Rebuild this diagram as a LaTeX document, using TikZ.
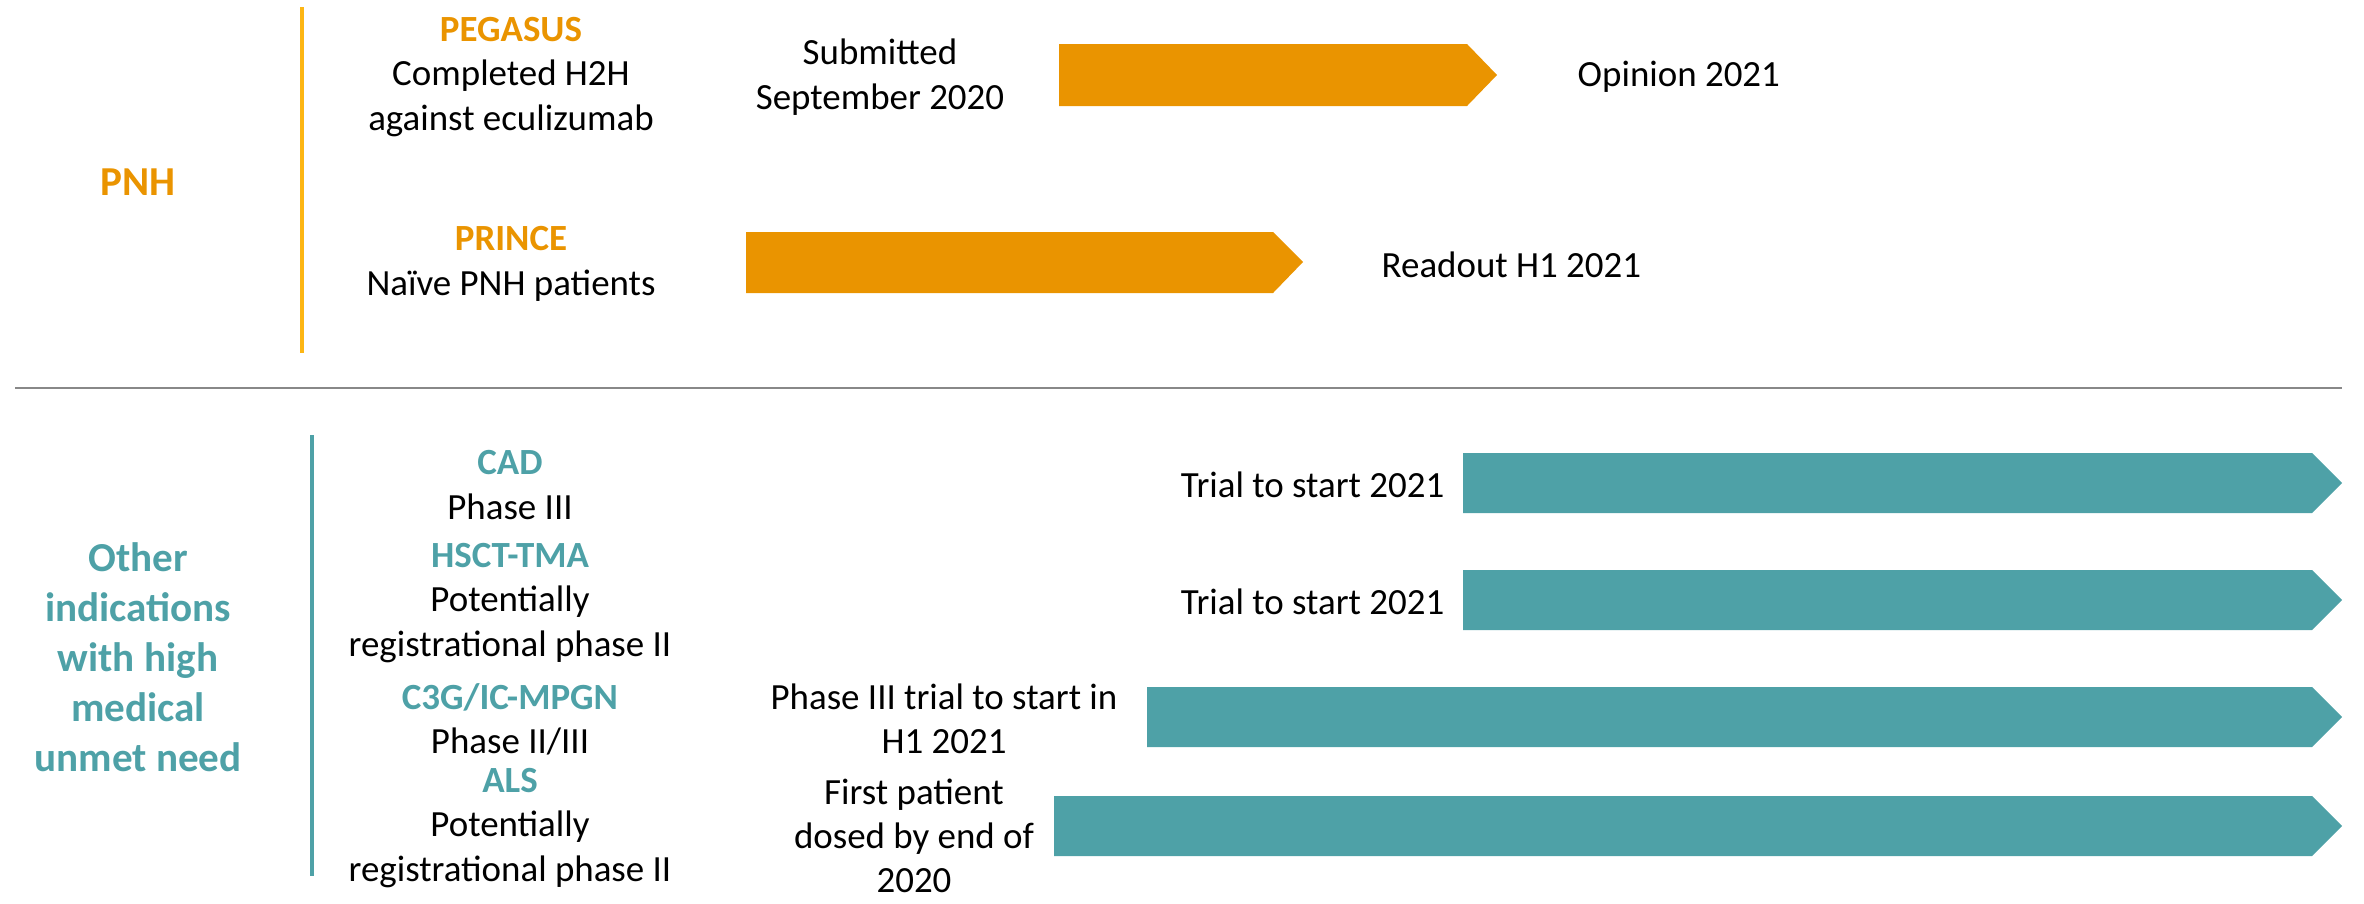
\documentclass[tikz,border=0pt]{standalone}
\usepackage{fontspec}
\setmainfont{Carlito}
\definecolor{orng}{HTML}{EA9400}
\definecolor{orngline}{HTML}{FDB614}
\definecolor{tealc}{HTML}{4EA1A7}
\definecolor{rulegray}{HTML}{888888}
\tikzset{
  txt/.style={align=center, inner sep=0pt, font=\fontsize{10.5pt}{12.6pt}\selectfont},
  bigtxt/.style={align=center, inner sep=0pt, font=\fontsize{11.7pt}{14.2pt}\selectfont\bfseries},
}
\begin{document}
\begin{tikzpicture}[x=0.01cm,y=-0.01cm]
\useasboundingbox (0,0) rectangle (2364,903);

% PNH block
\node[bigtxt,text=orng] (pnh) at (138,182) {PNH};
\draw[orngline,line width=1.1pt] (302,7) -- (302,353);
\node[txt] (pegasus) at (511,77) {{\color{orng}\bfseries PEGASUS}\\Completed H2H\\against eculizumab};
\node[txt] (prince) at (511,264) {{\color{orng}\bfseries PRINCE}\\Na\"ive PNH patients};
\node[txt] (submitted) at (880,77) {Submitted\\September 2020};
\node[txt,anchor=west] (opinion) at (1577,77) {Opinion 2021};
\node[txt,anchor=west] (readout) at (1381,265) {Readout H1 2021};

\fill[orng] (1059,44) -- (1467,44) -- (1497,75) -- (1467,106) -- (1059,106) -- cycle;
\fill[orng] (746,232) -- (1273,232) -- (1303,262) -- (1273,293) -- (746,293) -- cycle;

\draw[rulegray,line width=0.6pt] (15,388) -- (2342,388);

% other indications
\node[bigtxt,text=tealc] (other) at (138,657) {Other\\indications\\with high\\medical\\unmet need};
\draw[tealc,line width=1pt] (312,435) -- (312,876);
\node[txt] (cad) at (510,485) {{\color{tealc}\bfseries CAD}\\Phase III};
\node[txt] (hsct) at (510,603) {{\color{tealc}\bfseries HSCT-TMA}\\Potentially\\registrational phase II};
\node[txt] (cthreeg) at (510,719) {{\color{tealc}\bfseries C3G/IC-MPGN}\\Phase II/III};
\node[txt] (als) at (510,828) {{\color{tealc}\bfseries ALS}\\Potentially\\registrational phase II};

\node[txt,anchor=east] (trialcad) at (1445,485) {Trial to start 2021};
\node[txt,anchor=east] (trialhsct) at (1445,602) {Trial to start 2021};
\node[txt] (phasethree) at (944,719) {Phase III trial to start in\\H1 2021};
\node[txt] (firstpat) at (914,836) {First patient\\dosed by end of\\2020};

\foreach \xs/\yc in {1463/483,1463/600,1147/717,1054/826}
  \fill[tealc] (\xs,\yc-30) -- (2312,\yc-30) -- (2342,\yc) -- (2312,\yc+30) -- (\xs,\yc+30) -- cycle;
\end{tikzpicture}
\end{document}
